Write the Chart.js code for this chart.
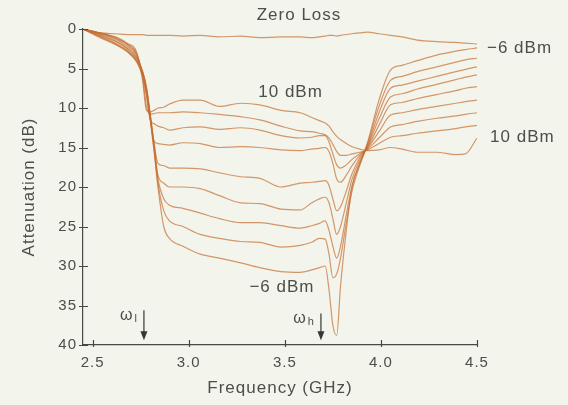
<!DOCTYPE html>
<html>
<head>
<meta charset="utf-8">
<script src="https://cdn.jsdelivr.net/npm/chart.js@4.4.0/dist/chart.umd.min.js"></script>
<style>
  html, body { margin: 0; padding: 0; background: #f3f5ec; }
  #chartBox { width: 568px; height: 405px; }
</style>
</head>
<body>
<div id="chartBox"><canvas id="attCanvas" width="568" height="405"></canvas></div>
<script>
// frequency grid (GHz) shared by all traces
const freqGHz = [2.45, 2.54, 2.62, 2.68, 2.73, 2.76, 2.78, 2.80, 2.82, 2.84, 2.87, 2.90, 2.97, 3.06, 3.16, 3.27, 3.37, 3.48, 3.58, 3.64,
                 3.68, 3.71, 3.73, 3.75, 3.77, 3.79, 3.82, 3.85, 3.89, 3.93, 3.99, 4.05, 4.11, 4.19, 4.29, 4.39, 4.44, 4.50];

// attenuation (dB) for each input power
const zeroLoss = [0, 0.5, 0.6, 0.7, 0.7, 0.7, 0.8, 0.8, 0.8, 0.8, 0.8, 0.8, 0.9, 0.8, 1.0, 0.9, 1.1, 1.0, 1.0, 1.1,
                  1.0, 0.9, 0.8, 0.8, 0.9, 0.8, 0.7, 0.6, 0.5, 0.4, 0.6, 0.8, 1.0, 1.4, 1.6, 1.7, 1.8, 1.9];
const p10 = [0, 0.6, 1.0, 1.8, 3.0, 6.5, 10.3, 10.5, 10.3, 10.0, 9.9, 9.5, 9.0, 9.0, 9.8, 9.4, 9.6, 10.3, 10.6, 11.2,
             11.6, 11.9, 12.3, 13.0, 13.6, 14.0, 14.5, 14.9, 15.2, 15.4, 15.3, 15.0, 15.2, 15.6, 15.6, 15.9, 15.8, 13.8];
const p8 = [0, 0.5, 1.1, 1.9, 3.2, 6.0, 9.8, 10.8, 10.7, 10.6, 10.6, 10.6, 10.5, 10.6, 10.8, 11.1, 11.5, 12.3, 12.9, 13.0,
            13.2, 13.4, 13.8, 14.6, 15.5, 16.0, 16.0, 15.8, 15.6, 15.3, 14.5, 13.7, 13.5, 13.2, 12.9, 12.6, 12.4, 12.2];
const p6 = [0, 0.5, 1.2, 2.0, 3.3, 5.8, 8.5, 11.5, 12.0, 12.3, 12.5, 12.8, 12.5, 12.4, 12.7, 12.5, 12.8, 13.5, 13.8, 13.7,
            13.5, 13.5, 14.3, 15.8, 17.2, 17.6, 17.2, 16.5, 15.8, 15.2, 13.8, 12.4, 12.1, 11.7, 11.3, 11.0, 10.8, 10.6];
const p4 = [0, 0.6, 1.3, 2.2, 3.5, 5.6, 8.0, 11.5, 14.2, 14.5, 14.6, 14.7, 14.4, 14.5, 15.0, 14.9, 15.0, 15.3, 15.4, 15.2,
            15.1, 15.0, 15.5, 17.0, 19.0, 19.4, 18.5, 17.3, 16.0, 15.1, 13.0, 10.9, 10.6, 10.2, 9.8, 9.4, 9.2, 9.0];
const p2 = [0, 0.7, 1.5, 2.4, 3.7, 5.4, 7.5, 11.0, 14.5, 17.0, 17.3, 17.6, 17.6, 17.7, 18.2, 18.7, 18.9, 20.0, 19.5, 19.4,
            19.3, 19.2, 19.8, 21.5, 23.0, 22.5, 20.5, 18.3, 16.3, 15.0, 12.2, 9.6, 9.3, 8.8, 8.3, 7.8, 7.5, 7.3];
const p0 = [0, 0.8, 1.6, 2.5, 3.8, 5.3, 7.3, 10.8, 14.5, 18.5, 19.5, 20.0, 20.0, 20.2, 21.1, 22.0, 22.1, 22.8, 22.9, 22.0,
            21.5, 21.3, 22.0, 24.0, 26.0, 25.0, 22.0, 19.0, 16.6, 14.9, 11.4, 8.6, 8.2, 7.6, 7.0, 6.4, 6.1, 5.8];
const pm2 = [0, 0.9, 1.8, 2.7, 4.0, 5.5, 7.5, 11.0, 15.0, 19.0, 21.5, 22.3, 22.7, 23.3, 24.0, 24.5, 24.5, 24.9, 25.2, 24.9,
             24.6, 24.3, 25.5, 27.5, 29.0, 27.5, 23.5, 19.8, 17.0, 14.8, 10.6, 7.5, 7.1, 6.6, 6.0, 5.4, 5.1, 4.8];
const pm4 = [0, 1.0, 1.9, 2.8, 4.1, 5.7, 7.8, 11.3, 15.3, 19.5, 23.0, 24.3, 25.0, 26.0, 26.5, 26.9, 27.0, 27.6, 27.4, 27.0,
             26.5, 26.6, 28.5, 31.5, 31.0, 29.0, 24.5, 20.5, 17.3, 14.6, 9.8, 6.5, 6.0, 5.4, 4.8, 4.2, 3.9, 3.7];
const pm6 = [0, 1.1, 2.0, 2.9, 4.2, 6.0, 8.0, 11.5, 15.5, 20.0, 25.0, 26.5, 27.5, 28.5, 29.0, 29.6, 30.2, 30.7, 30.8, 30.5,
             30.2, 30.0, 33.0, 37.5, 38.8, 32.5, 25.5, 20.0, 17.0, 14.4, 9.0, 5.2, 4.6, 4.0, 3.3, 2.8, 2.6, 2.4];

const xTicks = [2.5, 3.0, 3.5, 4.0, 4.5];
const yTicks = [0, 5, 10, 15, 20, 25, 30, 35, 40];

const traces = [zeroLoss, p10, p8, p6, p4, p2, p0, pm2, pm4, pm6];

// text labels placed in data units
const notes = [
  { text: 'Zero Loss', x: 3.574, y: -1.75, align: 'center' },
  { text: '10 dBm', x: 3.53, y: 8.0, align: 'center' },
  { text: '\u22126 dBm', x: 4.552, y: 2.4, align: 'left' },
  { text: '10 dBm', x: 4.568, y: 13.7, align: 'left' },
  { text: '\u22126 dBm', x: 3.485, y: 32.7, align: 'center' }
];
const arrows = [
  { x: 2.767, from: 35.6, to: 39.4, sym: '\u03c9', sub: 'l' },
  { x: 3.688, from: 36.0, to: 39.4, sym: '\u03c9', sub: 'h' }
];

const inkColor = '#4a4f4a';
const axisColor = '#454845';
const lineColor = 'rgba(196, 110, 50, 0.7)';
const fontFamily = '"Liberation Sans", Arial, sans-serif';

const notePlugin = {
  id: 'notes',
  beforeDraw(chart) {
    chart.ctx.letterSpacing = '1px';
  },
  afterDraw(chart) {
    const ctx = chart.ctx;
    const xs = chart.scales.x, ys = chart.scales.y;
    const area = chart.chartArea;
    ctx.save();
    // tick marks crossing the axes
    ctx.strokeStyle = axisColor;
    ctx.lineWidth = 1.2;
    ctx.beginPath();
    xTicks.forEach(v => {
      const px = Math.round(xs.getPixelForValue(v)) + 0.5;
      ctx.moveTo(px, area.bottom - 5);
      ctx.lineTo(px, area.bottom + 2);
    });
    yTicks.forEach(v => {
      const py = Math.round(ys.getPixelForValue(v)) + 0.5;
      ctx.moveTo(area.left - 4, py);
      ctx.lineTo(area.left + 5, py);
    });
    ctx.stroke();

    ctx.fillStyle = inkColor;
    ctx.font = '17px ' + fontFamily;
    ctx.textBaseline = 'middle';
    notes.forEach(n => {
      ctx.textAlign = n.align;
      ctx.fillText(n.text, xs.getPixelForValue(n.x), ys.getPixelForValue(n.y));
    });
    arrows.forEach(a => {
      const px = xs.getPixelForValue(a.x);
      const y1 = ys.getPixelForValue(a.from);
      const y2 = ys.getPixelForValue(a.to);
      ctx.strokeStyle = '#343734';
      ctx.fillStyle = '#343734';
      ctx.lineWidth = 1.2;
      ctx.beginPath();
      ctx.moveTo(px, y1);
      ctx.lineTo(px, y2 - 8);
      ctx.stroke();
      ctx.beginPath();
      ctx.moveTo(px - 3.5, y2 - 9);
      ctx.lineTo(px + 3.5, y2 - 9);
      ctx.lineTo(px, y2);
      ctx.closePath();
      ctx.fill();
      ctx.fillStyle = inkColor;
      ctx.textAlign = 'right';
      ctx.font = '11px ' + fontFamily;
      ctx.fillText(a.sub, px - 6, y1 + 9);
      const subW = ctx.measureText(a.sub).width;
      ctx.font = '16px ' + fontFamily;
      ctx.fillText(a.sym, px - 7 - subW, y1 + 5);
    });
    ctx.restore();
  }
};

const attChart = new Chart(document.getElementById('attCanvas'), {
  type: 'line',
  data: {
    datasets: traces.map(t => ({
      data: freqGHz.map((f, i) => ({ x: f, y: t[i] })),
      borderColor: lineColor,
      borderWidth: 1.2,
      pointRadius: 0,
      fill: false,
      cubicInterpolationMode: 'monotone'
    }))
  },
  options: {
    responsive: false,
    animation: false,
    layout: { padding: { top: 29, right: 91, left: 0, bottom: 0 } },
    plugins: { legend: { display: false }, tooltip: { enabled: false } },
    scales: {
      x: {
        type: 'linear',
        min: 2.45,
        max: 4.5,
        afterFit(s) { s.height = 60; },
        afterBuildTicks(s) { s.ticks = xTicks.map(v => ({ value: v })); },
        grid: { drawOnChartArea: false, drawTicks: false },
        border: { display: true, color: axisColor, width: 1.2 },
        ticks: { color: inkColor, padding: 9, font: { size: 15, family: fontFamily },
                 callback: v => v.toFixed(1) },
        title: { display: true, text: 'Frequency (GHz)', color: inkColor,
                 font: { size: 17, family: fontFamily }, padding: { top: 0, bottom: 6 } }
      },
      y: {
        type: 'linear',
        reverse: true,
        min: 0,
        max: 40,
        afterFit(s) { s.width = 83; },
        afterBuildTicks(s) { s.ticks = yTicks.map(v => ({ value: v })); },
        grid: { drawOnChartArea: false, drawTicks: false },
        border: { display: true, color: axisColor, width: 1.2 },
        ticks: { color: inkColor, padding: 6, font: { size: 15, family: fontFamily } },
        title: { display: true, text: 'Attenuation (dB)', color: inkColor,
                 font: { size: 17, family: fontFamily }, padding: { top: 19, bottom: 0 } }
      }
    }
  },
  plugins: [notePlugin]
});
</script>
</body>
</html>
